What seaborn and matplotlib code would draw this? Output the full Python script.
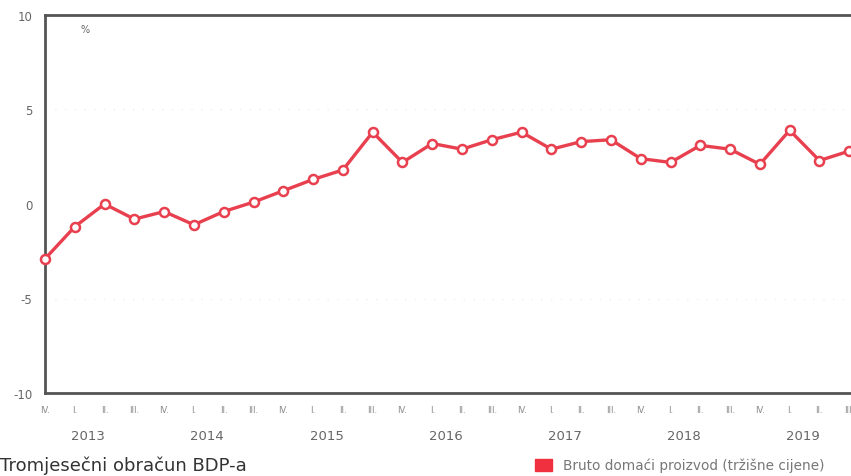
import matplotlib
matplotlib.use("Agg")
import matplotlib.pyplot as plt
import seaborn as sns
import pandas as pd

# quarterly GDP change, % (2012 Q4 - 2019 Q3)
quarters = ["IV.",
            "I.", "II.", "III.", "IV.",
            "I.", "II.", "III.", "IV.",
            "I.", "II.", "III.", "IV.",
            "I.", "II.", "III.", "IV.",
            "I.", "II.", "III.", "IV.",
            "I.", "II.", "III.", "IV.",
            "I.", "II.", "III."]
values = [-2.9,
          -1.2, 0.0, -0.8, -0.4,
          -1.1, -0.4, 0.1, 0.7,
          1.3, 1.8, 3.8, 2.2,
          3.2, 2.9, 3.4, 3.8,
          2.9, 3.3, 3.4, 2.4,
          2.2, 3.1, 2.9, 2.1,
          3.9, 2.3, 2.8]
years = ["2013", "2014", "2015", "2016", "2017", "2018", "2019"]

df = pd.DataFrame({"pos": range(len(values)), "value": values})

sns.set_style("white")
plt.rcParams["font.family"] = ["DejaVu Sans"]

W, H = 851, 477
fig = plt.figure(figsize=(W / 100, H / 100), dpi=100)
ax = fig.add_axes([45 / W, (H - 394) / H, (879 - 45) / W, (394 - 16) / H])

sns.lineplot(data=df, x="pos", y="value", ax=ax, color="#e8404f", linewidth=2.4,
             marker="o", markersize=6.5, markerfacecolor="white",
             markeredgecolor="#e8404f", markeredgewidth=1.8, clip_on=False, zorder=3)

ax.set_xlim(0, 28)
ax.set_ylim(-10, 10)
ax.set_yticks([-10, -5, 0, 5, 10])
ax.set_yticklabels(["-10", "-5", "0", "5", "10"], fontsize=8.5, color="#666666")
ax.set_xticks(range(len(quarters)))
ax.set_xticklabels(quarters, fontsize=6, color="#888888")
ax.tick_params(axis="both", length=0, pad=9)
ax.tick_params(axis="y", pad=9)
ax.set_xlabel("")
ax.set_ylabel("")

for y in (-5, 5):
    ax.axhline(y, color="#eeeeee", linestyle=(0, (1, 6)), linewidth=1, zorder=0)

for s in ax.spines.values():
    s.set_color("#555555")
    s.set_linewidth(2)

ax.text(1.2, 9.1, "%", fontsize=7, color="#666666")

for i, yr in enumerate(years):
    ax.text(1 + 4 * i + 0.45, -11.9, yr, ha="center", va="top",
            fontsize=9.5, color="#666666")

fig.text(0 / W, 1 - 466 / H, "Tromjesečni obračun BDP-a", ha="left", va="center",
         fontsize=13, color="#333333")
fig.patches.append(plt.Rectangle((535 / W, 1 - 472 / H), 17 / W, 12 / H,
                                 transform=fig.transFigure, color="#f0303f"))
fig.text(563 / W, 1 - 466 / H, "Bruto domaći proizvod (tržišne cijene)",
         ha="left", va="center", fontsize=9.8, color="#777777")

fig.savefig("out.png", dpi=100, facecolor="white")
